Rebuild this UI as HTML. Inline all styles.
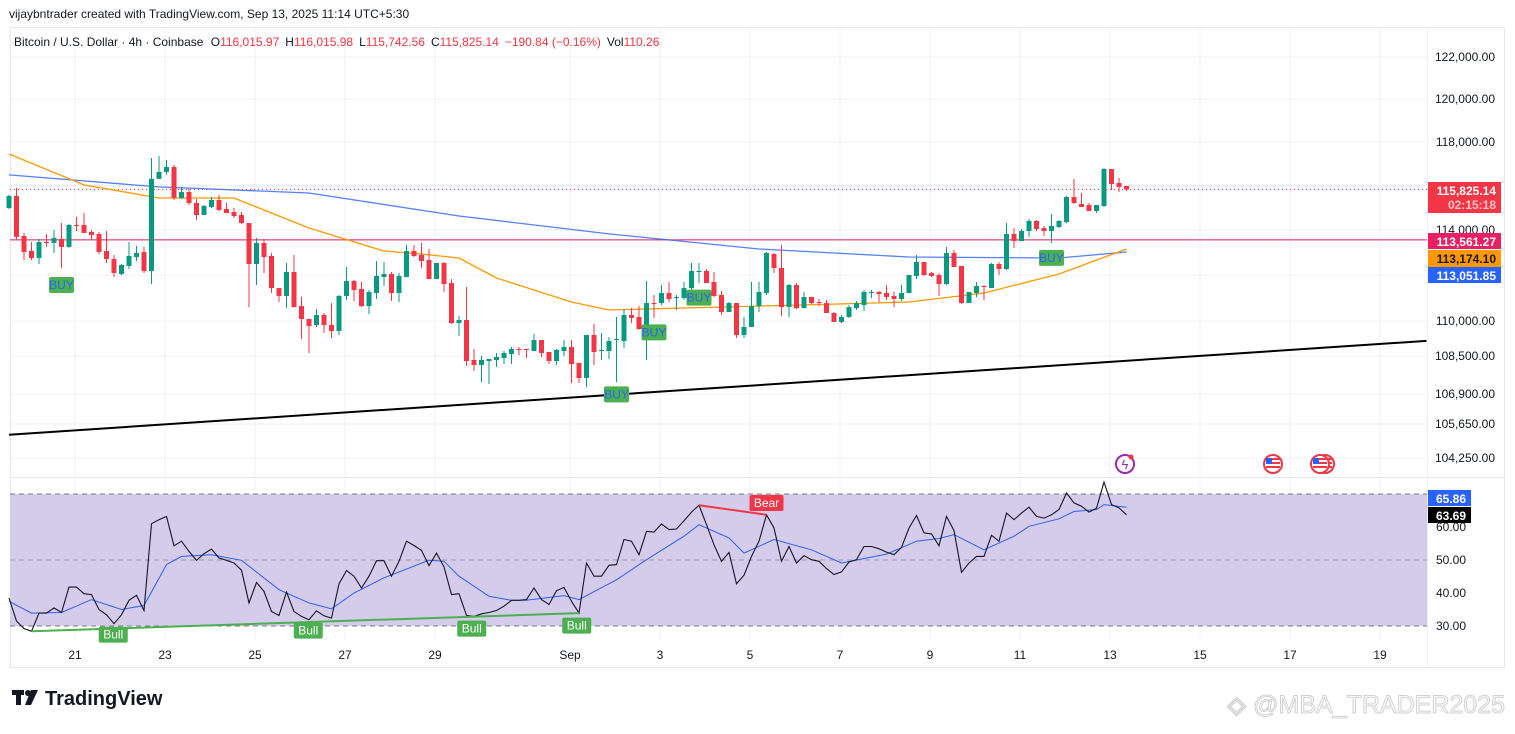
<!DOCTYPE html>
<html><head><meta charset="utf-8">
<style>
html,body{margin:0;padding:0;background:#fff;}
body{width:1515px;height:729px;overflow:hidden;font-family:"Liberation Sans",sans-serif;}
svg text{font-family:"Liberation Sans",sans-serif;}
</style></head>
<body>
<svg id="chart" width="1515" height="729" viewBox="0 0 1515 729" xmlns="http://www.w3.org/2000/svg">
  <text x="9" y="18" font-size="12" fill="#131722">vijaybntrader created with TradingView.com, Sep 13, 2025 11:14 UTC+5:30</text>
  <rect x="10.5" y="27.5" width="1494" height="640" fill="#fff" stroke="#e8e8ec"/>
  <g id="grid"></g>
  <rect id="rsiband" x="10" y="494" width="1417" height="132" fill="#d5cbeb"/>
  <g id="rsilevels"></g>
  <g id="lines"></g>
  <g id="candles"></g>
  <g id="rsi"></g>
  <g id="labels"></g>
  <line x1="10" y1="477.5" x2="1505" y2="477.5" stroke="#e8e8ec"/>
  <line x1="1427.5" y1="28" x2="1427.5" y2="667" stroke="#f0f0f3"/>
  <g id="axis"></g>
  <g id="taxis"></g>
  <text x="14" y="46" font-size="12" fill="#131722">Bitcoin / U.S. Dollar · 4h · Coinbase <tspan dx="4">O</tspan><tspan fill="#f23645">116,015.97</tspan><tspan dx="6">H</tspan><tspan fill="#f23645">116,015.98</tspan><tspan dx="6">L</tspan><tspan fill="#f23645">115,742.56</tspan><tspan dx="6">C</tspan><tspan fill="#f23645">115,825.14</tspan><tspan dx="6" fill="#f23645">−190.84 (−0.16%)</tspan><tspan dx="6">Vol</tspan><tspan fill="#f23645">110.26</tspan></text>
  <g>
    <rect x="12" y="690" width="12" height="5" fill="#131722"/>
    <rect x="16" y="690" width="5" height="15" fill="#131722"/>
    <circle cx="28" cy="693" r="3" fill="#131722"/>
    <polygon points="31,690 38,690 31,705 25,705" fill="#131722"/>
    <text x="45" y="705" font-size="20" font-weight="bold" fill="#131722">TradingView</text>
  </g>
  <text x="1505" y="713" font-size="25" text-anchor="end" fill="#fff" stroke="#d0d0d0" stroke-width="1">◈ @MBA_TRADER2025</text>
</svg>
<script>
const opens=[114989,115532,113737,113067,112756,113467,113423,113605,113247,114224,114224,113913,113825,113067,112712,112051,112404,112800,113023,112183,116309,116624,116850,115439,115712,115214,114673,115034,115349,114944,114808,114673,114314,112492,113423,112844,111436,111091,112139,110651,110094,109834,110266,109834,109576,111091,111744,111395,110651,111219,111919,112051,111219,111919,113067,112891,112668,111832,112536,111656,109920,110049,108337,108125,108294,108337,108423,108591,108806,108806,108720,109190,108677,108294,108720,108892,108210,107575,109405,108720,108720,109190,109147,110266,110180,109662,110783,110783,111219,111003,111003,111436,112139,112183,111700,111135,110395,110783,109405,109748,110651,111219,112935,112316,110607,111568,110563,111047,110827,110783,110352,109963,110180,110563,110695,111219,111263,111219,111091,110959,111219,111964,112580,112095,112007,111612,112979,112404,110783,111219,111524,111436,112492,112271,113825,113511,113957,114404,114089,113957,114134,114359,115484,115169,115124,114853,115079,116760,116122,115987];
const highs=[115577,115897,113869,113467,113605,113825,114001,114314,114269,114583,114763,114001,113913,113957,112891,112492,113467,113291,113247,117264,117356,117172,116940,115942,115852,115394,115124,115484,115577,115214,114989,114808,114314,113649,113605,112979,111436,112536,112891,111047,110094,110525,110352,110783,111135,112359,111788,111700,111351,112624,112580,112139,112095,113335,113335,113423,113155,112536,112580,111832,110223,111480,108806,108509,108380,108634,108720,108892,108892,108806,109448,109190,108677,108806,109190,109190,108210,109405,109877,109490,109319,110180,110525,110567,110651,111744,111135,111568,111700,111135,111700,112536,112536,112271,112139,111307,110827,110783,110180,111700,111700,113023,112979,113335,111612,111656,111263,111047,110959,110915,110395,110266,110695,110871,111351,111351,111307,111568,111263,111568,112007,112891,112580,112139,112095,113247,113111,112404,111263,111700,111568,112536,112580,114314,114089,114045,114493,114449,114179,114718,114449,115532,116302,115667,115214,115124,116805,116760,116352,115987];
const lows=[114944,113555,112668,112668,112492,113247,112979,112316,113203,113957,113869,113555,112935,112536,111919,112007,112271,112624,112095,111612,116309,116489,115349,115394,115124,114449,114673,114989,114853,114763,114539,114269,110607,111568,112095,111219,110827,110563,110607,109233,108634,109748,109490,109276,109405,110915,110871,110607,110309,110959,111524,110871,110827,111919,112800,112316,111832,111832,111263,109877,109362,108083,107871,107407,107323,108040,108167,108167,108548,108423,108720,108466,108167,108125,108509,107365,107365,107197,108125,108337,108380,107407,108849,109920,109619,108337,110137,110695,110827,110481,110915,111263,111656,111656,111047,110266,110395,109276,109276,109748,110395,111135,112095,110223,110180,110525,110563,110739,110651,110352,109963,109920,110137,110481,110438,111003,110827,110915,110607,110871,111219,111832,111964,111919,111091,111568,112359,110739,110783,111047,110915,111436,112007,112227,113203,113511,113693,113957,113737,113423,114089,114314,115169,115034,114853,114763,115034,115802,115712,115757];
const closes=[115532,113693,113023,112756,113467,113423,113649,113247,114224,114179,113869,113781,113023,112712,112095,112448,112844,112979,112183,116309,116624,116850,115439,115712,115214,114673,115079,115349,114898,114763,114628,114314,112492,113423,112800,111436,111091,112139,110607,110094,109791,110266,109834,109576,111091,111744,111351,110651,111263,111964,112051,111219,111964,113067,112844,112624,111832,112536,111612,109920,110049,108294,108125,108337,108380,108466,108634,108806,108763,108763,109190,108634,108294,108763,108892,108167,107575,109405,108677,108763,109147,109233,110266,110137,109662,110783,110739,111219,110959,111047,111436,112183,112183,111656,111091,110395,110783,109405,109748,110651,111263,112979,112316,110607,111568,110563,111047,110783,110783,110352,109963,110180,110607,110783,111263,111263,111175,111047,110959,111219,112007,112580,112007,111964,111612,112979,112359,110783,111263,111524,111480,112492,112271,113825,113511,113957,114404,114045,113957,114179,114404,115484,115214,115034,114853,115124,116760,116077,115942,115825];
const ema50Idx=[0,10,20,30,40,50,55,60,65,70,75,80,90,100,110,120,130,140,149];
const ema50Val=[117448,116032,115439,115439,114089,113067,112935,112756,111876,111351,110827,110481,110567,110651,110739,110827,111219,112051,113155];
const ema200Idx=[0,20,40,60,80,100,120,140,149];
const ema200Val=[116489,115942,115667,114628,113825,113155,112800,112756,113023];
const rsiVals=[38.5,31.5,29.2,28.4,33.9,33.9,35.5,34.1,41.8,41.8,39.8,39.5,35.0,33.4,30.7,33.4,37.8,39.3,34.7,61.0,62.2,63.2,54.3,55.7,52.6,49.9,51.9,53.3,50.6,49.9,49.1,46.9,37.0,43.2,40.5,34.4,33.2,40.3,34.4,32.9,31.9,34.6,33.1,32.4,42.8,46.8,45.1,41.5,45.1,49.8,49.8,45.1,49.6,55.7,54.4,52.9,48.3,52.1,47.9,39.5,39.8,33.2,32.9,33.7,34.1,34.7,36.0,37.8,37.8,38.0,41.5,38.0,36.5,40.7,41.7,37.5,33.9,49.1,45.1,45.1,48.4,48.6,56.2,55.7,51.6,58.7,58.5,60.9,59.2,59.4,61.9,64.5,66.6,60.7,54.6,49.6,52.3,42.8,45.4,51.1,55.7,63.7,59.7,49.6,54.1,49.1,51.3,50.1,49.6,47.4,45.6,46.4,49.4,50.1,54.1,54.1,53.4,52.4,51.6,53.8,59.7,63.5,58.2,57.9,54.3,63.2,58.9,46.3,49.1,51.1,51.1,57.5,55.7,64.2,62.2,64.2,66.0,63.2,62.7,63.7,65.3,70.3,67.3,66.3,64.5,65.7,73.6,66.8,65.8,63.7];
const rsiMaIdx=[0,3,7,11,15,18,21,23,27,31,36,40,43,46,50,56,58,60,64,67,69,74,76,81,85,90,92,96,98,102,107,111,117,121,124,126,130,134,136,140,142,145,146,149];
const rsiMaVal=[37.5,33.9,34.1,38.0,35.0,36.2,48.6,51.1,51.6,49.9,41.0,37.0,35.2,40.0,44.6,49.9,49.6,45.1,39.0,37.8,37.8,39.2,38.0,44.0,50.1,57.2,60.7,56.7,52.1,56.2,53.1,49.1,51.8,55.7,56.5,57.7,53.1,57.2,60.2,62.5,64.7,65.3,66.8,66.0];
const priceTicks=[122000,120000,118000,116000,114000,112000,110000,108500,106900,105650,104250];
const priceTickLabels=["122,000.00","120,000.00","118,000.00","","114,000.00","","110,000.00","108,500.00","106,900.00","105,650.00","104,250.00"];
const rsiTicks=[60,50,40,30];
const rsiTickLabels=["60.00","50.00","40.00","30.00"];
const dateDays=[-11,-9,-7,-5,-3,0,2,4,6,8,10,12,14,16,18];
const dateLabels=["21","23","25","27","29","Sep","3","5","7","9","11","13","15","17","19"];
const lastPrice=115825.14, hLinePrice=113561.27;
const trendIdx=[0,189], trendVal=[105210,109150];
const buyIdx=[7,86,92,81,139], buyVal=[112050,109990,111500,107350,113250];
const bullIdx=[3,40,61,76], bearIdx=[92,101];
const bullLabelIdx=[13.9,39.9,61.7,75.7];
const bullLabelRsi=[27.4,28.6,29.2,30.1];

const NS="http://www.w3.org/2000/svg";
const X=i=>9+7.5*i;
const DX=d=>570+45*d;
const Y=p=>57+2551*Math.log(122000/p);
const RY=v=>494+(70-v)*3.3;
function mk(tag,attrs,parent){const e=document.createElementNS(NS,tag);for(const k in attrs)e.setAttribute(k,attrs[k]);document.getElementById(parent).appendChild(e);return e;}

priceTicks.forEach(p=>{const e=mk('line',{x1:10,x2:1427,y1:Y(p),y2:Y(p),stroke:'#f0f0f3'},'grid');

});
dateDays.forEach(d=>{const e=mk('line',{x1:DX(d),x2:DX(d),y1:28,y2:640,stroke:'#f0f0f3'},'grid');

});
[70,50,30].forEach(v=>{const e=mk('line',{x1:10,x2:1427,y1:RY(v),y2:RY(v),stroke:v==50?'#9e9aa8':'#787b86','stroke-dasharray':'5,4'},'rsilevels');

});

function poly(idx,val,yf,attrs,parent,name){const pts=idx.map((i,k)=>X(i).toFixed(1)+','+yf(val[k]).toFixed(1)).join(' ');
const e=mk('polyline',Object.assign({points:pts,fill:'none'},attrs),parent);

return e;}

let e=mk('line',{x1:10,x2:1427,y1:Y(hLinePrice),y2:Y(hLinePrice),stroke:'#d81b60','stroke-width':1},'lines');


e=mk('line',{x1:10,x2:1427,y1:Y(lastPrice),y2:Y(lastPrice),stroke:'#f23645','stroke-dasharray':'1,3'},'lines');


e=mk('line',{x1:X(trendIdx[0]),x2:X(trendIdx[1]),y1:Y(trendVal[0]),y2:Y(trendVal[1]),stroke:'#000','stroke-width':2},'lines');


poly(ema200Idx,ema200Val,Y,{stroke:'#2962ff','stroke-width':1.3,'stroke-opacity':0.8},'lines','ema200-line');
poly(ema50Idx,ema50Val,Y,{stroke:'#ff9800','stroke-width':1.3},'lines','ema50-line');

opens.forEach((o,i)=>{const c=closes[i],up=c>=o,col=up?'#089981':'#f23645',x=X(i);
const w=mk('line',{x1:x,x2:x,y1:Y(highs[i]),y2:Y(lows[i]),stroke:col,'stroke-width':1},'candles');


const top=Y(Math.max(o,c)),bot=Y(Math.min(o,c));
const b=mk('rect',{x:x-2.5,y:top,width:5,height:Math.max(1,bot-top),fill:col},'candles');

});

poly(rsiMaIdx,rsiMaVal,RY,{stroke:'#2962ff','stroke-width':1},'rsi','rsi-ma-line');
poly(rsiVals.map((v,i)=>i),rsiVals,RY,{stroke:'#131722','stroke-width':1.1},'rsi','rsi-line');
e=mk('line',{x1:X(bullIdx[0]),y1:RY(rsiVals[bullIdx[0]]),x2:X(bullIdx[3]),y2:RY(rsiVals[bullIdx[3]]),stroke:'#4caf50','stroke-width':2},'rsi');


e=mk('line',{x1:X(bearIdx[0]),y1:RY(rsiVals[bearIdx[0]]),x2:X(bearIdx[1]),y2:RY(rsiVals[bearIdx[1]]),stroke:'#f23645','stroke-width':2},'rsi');



function tag(cx,cy,w,h,bg,fg,txt,name,parent){const g=mk('g',{},parent);


const r=document.createElementNS(NS,'rect');r.setAttribute('x',cx-w/2);r.setAttribute('y',cy-h/2);r.setAttribute('width',w);r.setAttribute('height',h);r.setAttribute('rx',2);r.setAttribute('fill',bg);g.appendChild(r);
const t=document.createElementNS(NS,'text');t.setAttribute('x',cx);t.setAttribute('y',cy+4);t.setAttribute('text-anchor','middle');t.setAttribute('font-size',12);t.setAttribute('fill',fg);t.textContent=txt;g.appendChild(t);return g;}

bullLabelIdx.forEach((i,k)=>{tag(X(i),RY(bullLabelRsi[k]),29,16,'#4caf50','#fff','Bull','bull-label','labels');});
tag(X(bearIdx[1]),503,34,16,'#f23645','#fff','Bear','bear-label','labels');
buyIdx.forEach((i,k)=>{tag(X(i),Y(buyVal[k])+11,25,16,'#4caf50','#2962ff','BUY','buy-signal','labels');});

function evt(x,col,name,flag){const g=mk('g',{},'labels');


const c=document.createElementNS(NS,'circle');c.setAttribute('cx',x);c.setAttribute('cy',464);c.setAttribute('r',9);c.setAttribute('fill','#fff');c.setAttribute('stroke',col);c.setAttribute('stroke-width',2);g.appendChild(c);
if(flag){[0,1,2].forEach(s=>{const r=document.createElementNS(NS,'rect');r.setAttribute('x',x-7);r.setAttribute('y',458+s*4);r.setAttribute('width',14);r.setAttribute('height',2);r.setAttribute('fill','#f23645');g.appendChild(r);});
const b=document.createElementNS(NS,'rect');b.setAttribute('x',x-7);b.setAttribute('y',458);b.setAttribute('width',6);b.setAttribute('height',6);b.setAttribute('fill','#2962ff');g.appendChild(b);}
else{const t=document.createElementNS(NS,'text');t.setAttribute('x',x);t.setAttribute('y',469);t.setAttribute('text-anchor','middle');t.setAttribute('font-size',13);t.setAttribute('fill',col);t.textContent='ϟ';g.appendChild(t);
const d=document.createElementNS(NS,'circle');d.setAttribute('cx',x+6);d.setAttribute('cy',457);d.setAttribute('r',2.5);d.setAttribute('fill','#f23645');g.appendChild(d);}}
evt(1125,'#9c27b0','earnings-event-icon',false);
evt(1325,'#f23645','us-economic-event-icon',true);
evt(1320,'#f23645','us-economic-event-icon',true);
evt(1273,'#f23645','us-economic-event-icon',true);

priceTicks.forEach((p,k)=>{if(!priceTickLabels[k])return;const t=mk('text',{x:1495,y:Y(p)+4,'text-anchor':'end','font-size':12,fill:'#131722'},'axis');t.textContent=priceTickLabels[k];

});
rsiTicks.forEach((v,k)=>{const t=mk('text',{x:1466,y:RY(v)+4,'text-anchor':'end','font-size':12,fill:'#131722'},'axis');t.textContent=rsiTickLabels[k];

});
function box(y,h,bg,fg,lines,name,w){const g=mk('g',{},'axis');


const r=document.createElementNS(NS,'rect');r.setAttribute('x',1428);r.setAttribute('y',y);r.setAttribute('width',w||73);r.setAttribute('height',h);r.setAttribute('fill',bg);g.appendChild(r);
lines.forEach((s,k)=>{const t=document.createElementNS(NS,'text');t.setAttribute('x',1428+(w||73)-5);t.setAttribute('y',y+13+k*14);t.setAttribute('text-anchor','end');t.setAttribute('font-size',12);t.setAttribute('font-weight','bold');t.setAttribute('fill',k?'#fbc4c9':fg);t.textContent=s;g.appendChild(t);});}
box(182,31,'#f23645','#fff',['115,825.14','02:15:18'],'last-price-label');
box(233,16,'#e91e63','#fff',['113,561.27'],'level-price-label');
box(250,17,'#ff9800','#131722',['113,174.10'],'ema50-price-label');
box(267,16,'#2962ff','#fff',['113,051.85'],'ema200-price-label');
box(490,16,'#2962ff','#fff',['65.86'],'rsi-ma-value-label',43);
box(507,16,'#000','#fff',['63.69'],'rsi-value-label',43);

dateDays.forEach((d,k)=>{const t=mk('text',{x:DX(d),y:659,'text-anchor':'middle','font-size':12,fill:'#131722'},'taxis');t.textContent=dateLabels[k];

});
</script>
</body></html>
